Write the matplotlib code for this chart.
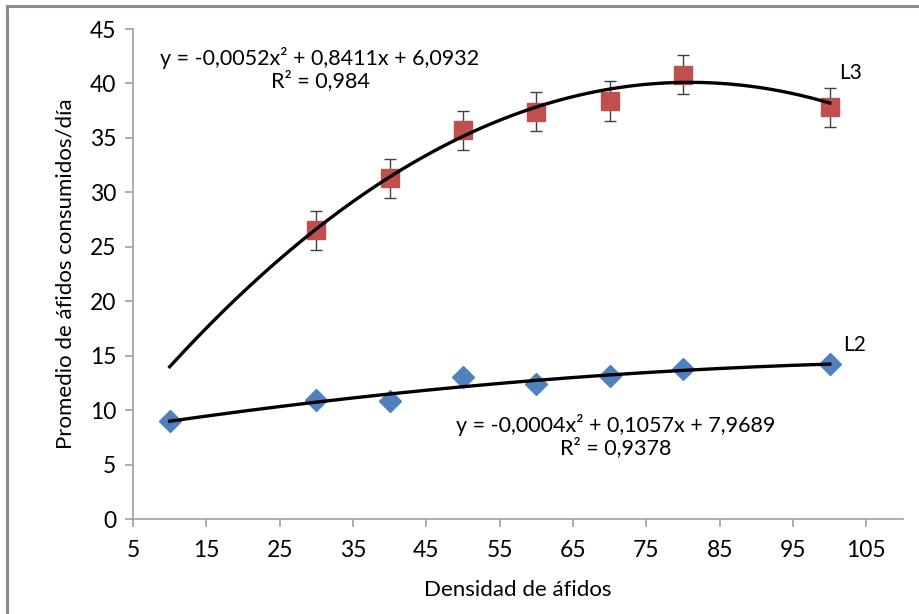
import numpy as np
from matplotlib import pyplot as plt
from matplotlib.patches import Rectangle

plt.rcParams['font.family'] = ['Lato', 'DejaVu Sans']

# aphid density
x_l2 = [10, 30, 40, 50, 60, 70, 80, 100]
y_l2 = [9.0, 10.9, 10.8, 13.0, 12.4, 13.1, 13.8, 14.2]
err_l2 = [0.5, 0.5, 0.5, 0.6, 0.5, 0.5, 0.5, 0.5]

x_l3 = [30, 40, 50, 60, 70, 80, 100]
y_l3 = [26.5, 31.3, 35.7, 37.4, 38.4, 40.8, 37.8]
err_l3 = [1.8, 1.8, 1.8, 1.8, 1.8, 1.8, 1.8]

# quadratic fit for L3 as printed on the chart (a, b, c)
fit_l3 = [-0.0052, 0.8411, 6.0932]
eq_l3 = "y = -0,0052x² + 0,8411x + 6,0932\nR² = 0,984"
eq_l2 = "y = -0,0004x² + 0,1057x + 7,9689\nR² = 0,9378"

xticks = [5, 15, 25, 35, 45, 55, 65, 75, 85, 95, 105]
yticks = [0, 5, 10, 15, 20, 25, 30, 35, 40, 45]

fig = plt.figure(figsize=(9.2, 6.14), dpi=100)
ax = fig.add_axes([0.1446, 0.1547, 0.837, 0.798])

# outer frame (right/bottom run off the image)
fig.patches.append(Rectangle((0.0075, -0.05), 1.1, 1.04, transform=fig.transFigure,
                             fill=False, edgecolor='#8c8c8c', linewidth=2.2))

xs = np.linspace(10, 100, 200)
fit_l2 = np.polyfit(x_l2, y_l2, 2)
ax.plot(xs, np.polyval(fit_l3, xs), color='black', lw=2.4, zorder=3)
ax.plot(xs, np.polyval(fit_l2, xs), color='black', lw=2.4, zorder=3)

ax.errorbar(x_l3, y_l3, yerr=err_l3, fmt='s', color='#c0504d', ms=12.5,
            ecolor='#404040', elinewidth=1, capsize=4.5, capthick=1, zorder=2)
ax.errorbar(x_l2, y_l2, yerr=err_l2, fmt='D', color='#4f81bd', ms=11,
            ecolor='black', elinewidth=1, capsize=3, capthick=1, zorder=2)

ax.text(30.5, 41.3, eq_l3, ha='center', va='center', fontsize=15.5, linespacing=1.05)
ax.text(70.8, 7.6, eq_l2, ha='center', va='center', fontsize=15.5, linespacing=1.05)
ax.text(102.8, 41.0, "L3", ha='center', va='center', fontsize=15)
ax.text(103.4, 16.0, "L2", ha='center', va='center', fontsize=15)

ax.set_xlim(5, 110)
ax.set_ylim(0, 45)
ax.set_xticks(xticks)
ax.set_yticks(yticks)
ax.tick_params(labelsize=16.5, length=6, color='#a0a0a0', width=1.2)
ax.tick_params(axis='x', pad=9)
ax.tick_params(axis='y', pad=6)
for side in ['top', 'right']:
    ax.spines[side].set_visible(False)
for side in ['left', 'bottom']:
    ax.spines[side].set_color('#a0a0a0')
    ax.spines[side].set_linewidth(1.2)

ax.set_xlabel("Densidad de áfidos", fontsize=16, labelpad=14)
ax.set_ylabel("Promedio de áfidos consumidos/día", fontsize=16, labelpad=10)

fig.savefig("out.png", dpi=100)
